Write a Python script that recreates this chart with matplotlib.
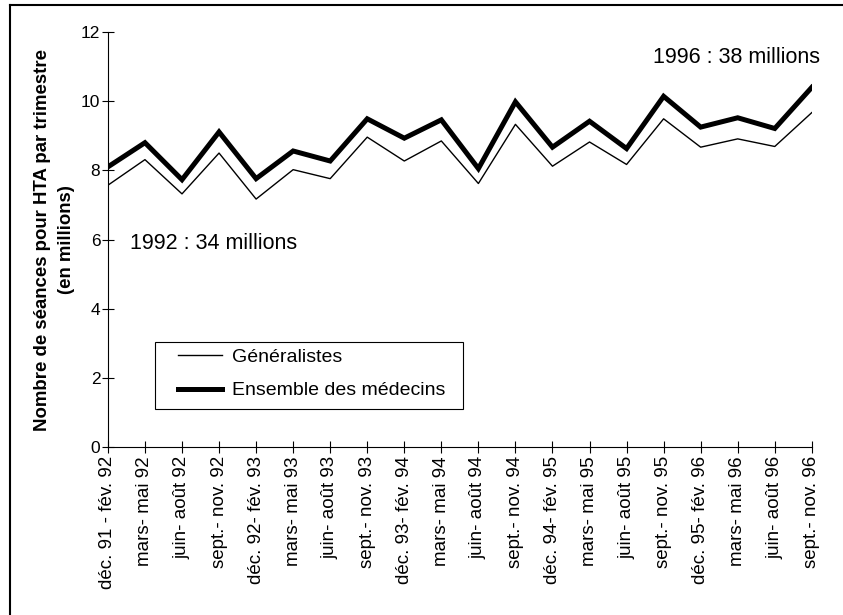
import numpy as np
import matplotlib.pyplot as plt
from matplotlib.lines import Line2D
from matplotlib.patches import Rectangle

plt.rcParams['font.family'] = ['Liberation Sans', 'DejaVu Sans']

# quarterly periods (Dec 91 to Nov 96)
periods = ["déc. 91 - fév. 92", "mars- mai 92", "juin- août 92", "sept.- nov. 92",
           "déc. 92- fév. 93", "mars- mai 93", "juin- août 93", "sept.- nov. 93",
           "déc. 93- fév. 94", "mars- mai 94", "juin- août 94", "sept.- nov. 94",
           "déc. 94- fév. 95", "mars- mai 95", "juin- août 95", "sept.- nov. 95",
           "déc. 95- fév. 96", "mars- mai 96", "juin- août 96", "sept.- nov. 96"]

# sessions for hypertension per quarter (millions)
generalistes = [7.57, 8.31, 7.32, 8.50, 7.17, 8.02, 7.76, 8.96, 8.27, 8.85,
                7.62, 9.33, 8.12, 8.82, 8.17, 9.49, 8.67, 8.91, 8.69, 9.67]
ensemble = [8.10, 8.80, 7.73, 9.11, 7.76, 8.56, 8.27, 9.49, 8.93, 9.46,
            8.05, 9.98, 8.67, 9.42, 8.63, 10.14, 9.25, 9.52, 9.21, 10.40]

fig = plt.figure(figsize=(8.43, 6.15), dpi=100)
ax = fig.add_axes([0.128, 0.273, 0.835, 0.675])

x = np.arange(len(periods))
ax.plot(x, generalistes, color='black', lw=1.0, label='Généralistes')
ax.plot(x, ensemble, color='black', lw=3.6, solid_joinstyle='miter',
        label='Ensemble des médecins')

ax.set_xlim(0, len(periods) - 1)
ax.set_ylim(0, 12)
ax.set_yticks(range(0, 13, 2))
ax.set_xticks(x)
ax.set_xticklabels(periods, rotation=90, fontsize=13.5)
ax.tick_params(axis='y', labelsize=12.5, direction='inout', length=9, width=0.8, pad=1)
ax.tick_params(axis='x', direction='inout', length=9, width=0.8, pad=2)
ax.spines['top'].set_visible(False)
ax.spines['right'].set_visible(False)

ax.set_ylabel("Nombre de séances pour HTA par trimestre\n(en millions)",
              fontsize=13.4, fontweight='bold', labelpad=4.5, linespacing=1.5)

ax.text(0.6, 5.9, "1992 : 34 millions", fontsize=15.5, va='center', ha='left')
ax.text(14.7, 11.25, "1996 : 38 millions", fontsize=15.5, va='center', ha='left')

# legend box drawn separately so the padding matches
ax.add_patch(Rectangle((0.067, 0.092), 0.437, 0.161, transform=ax.transAxes,
                       facecolor='white', edgecolor='black', lw=0.8, zorder=4))
leg = ax.legend(loc='center left', bbox_to_anchor=(0.099, 0.176), borderaxespad=0,
                fontsize=14, frameon=False, borderpad=0,
                handlelength=2.3, handletextpad=0.5, labelspacing=0.8)
leg.set_zorder(5)

# outer frame (left and top edges visible)
fig.add_artist(Line2D([10 / 843, 10 / 843], [0, 1 - 5 / 615], transform=fig.transFigure,
                      color='black', lw=1.5))
fig.add_artist(Line2D([10 / 843, 1], [1 - 5 / 615, 1 - 5 / 615], transform=fig.transFigure,
                      color='black', lw=1.5))

fig.savefig("out.png", dpi=100)
